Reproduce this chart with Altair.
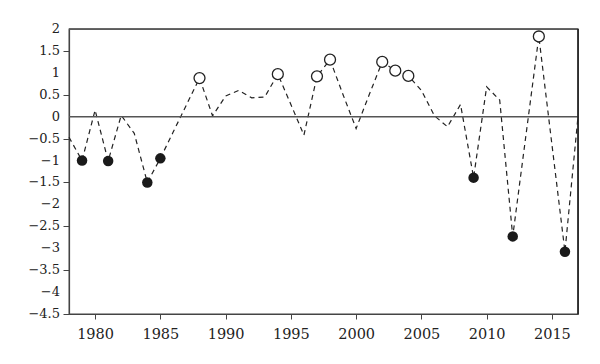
import altair as alt
import pandas as pd

years = list(range(1978, 2018))
values = [-0.47, -1.0, 0.15, -1.01, 0.03, -0.38, -1.5, -0.95, -0.34, 0.27,
          0.88, 0.02, 0.47, 0.6, 0.43, 0.45, 0.97, 0.28, -0.42, 0.92,
          1.3, 0.5, -0.27, 0.5, 1.25, 1.05, 0.93, 0.6, 0.02, -0.23,
          0.28, -1.39, 0.68, 0.38, -2.73, -0.45, 1.83, -0.63, -3.08, 0.0]
low_years = [1979, 1981, 1984, 1985, 2009, 2012, 2016]
high_years = [1988, 1994, 1997, 1998, 2002, 2003, 2004, 2014]
y_ticks = [2, 1.5, 1, 0.5, 0, -0.5, -1, -1.5, -2, -2.5, -3, -3.5, -4, -4.5]
y_labels = ["2", "1.5", "1", "0.5", "0", "\u22120.5", "\u22121", "\u22121.5", "\u22122",
            "\u22122.5", "\u22123", "\u22123.5", "\u22124", "\u22124.5"]
x_ticks = [1980, 1985, 1990, 1995, 2000, 2005, 2010, 2015]

kind = ["low" if y in low_years else ("high" if y in high_years else "none") for y in years]
df = pd.DataFrame({"year": years, "value": values, "kind": kind})
df_ylab = pd.DataFrame({"tick": y_ticks, "label": y_labels})
df_one = pd.DataFrame({"k": [0]})

FONT = "DejaVu Serif"
XMIN, XMAX = 1978, 2017
YMIN, YMAX = -4.5, 2

xs = alt.Scale(domain=[XMIN, XMAX], nice=False, zero=False)
ys = alt.Scale(domain=[YMIN, YMAX], nice=False, zero=False)

x_enc = alt.X("year:Q", scale=xs,
              axis=alt.Axis(values=x_ticks, format="d", title=None,
                            labelFontSize=14.5, labelPadding=8, tickSize=5,
                            labelFont=FONT, labelColor="#222", domainColor="#444",
                            tickColor="#444", grid=False, domainWidth=1.2))
y_enc = alt.Y("value:Q", scale=ys,
              axis=alt.Axis(values=y_ticks, labels=False, title=None,
                            tickSize=6, domainColor="#444", tickColor="#444",
                            grid=False, domainWidth=1.2))

base = alt.Chart(df).encode(x=x_enc, y=y_enc)

line = base.mark_line(color="#222", strokeWidth=1.2, strokeDash=[5, 4])

one = alt.Chart(df_one)

zero = one.mark_rule(color="#555", strokeWidth=1.4).encode(
    y=alt.datum(0), x=alt.datum(XMIN), x2=alt.datum(XMAX))

top = one.mark_rule(color="#555", strokeWidth=1.6, clip=False).encode(
    y=alt.datum(YMAX), x=alt.datum(XMIN), x2=alt.datum(XMAX))

right = one.mark_rule(color="#222", strokeWidth=1.6, clip=False).encode(
    x=alt.datum(XMAX), y=alt.datum(YMIN), y2=alt.datum(YMAX))

ylabels = alt.Chart(df_ylab).mark_text(
    align="right", baseline="middle", font=FONT, fontSize=13, color="#222", dx=-9
).encode(x=alt.datum(XMIN), y=alt.Y("tick:Q", scale=ys), text="label:N")

lows = base.mark_circle(color="#1a1a1a", opacity=1, size=110).transform_filter(
    alt.datum.kind == "low")

highs = base.mark_point(shape="circle", fill="white", filled=False,
                        stroke="#222", strokeWidth=1.3, opacity=1,
                        fillOpacity=1, size=120).transform_filter(
    alt.datum.kind == "high")

chart = alt.layer(line, zero, ylabels, lows, highs, top, right).properties(
    width=509, height=285,
    background="white",
    padding={"left": 61, "top": 21, "right": 14, "bottom": 41},
    autosize=alt.AutoSizeParams(type="none"),
).configure_view(stroke="#444", strokeWidth=1.3)

chart.save("out.html", embed_options={"renderer": "svg", "actions": False})
